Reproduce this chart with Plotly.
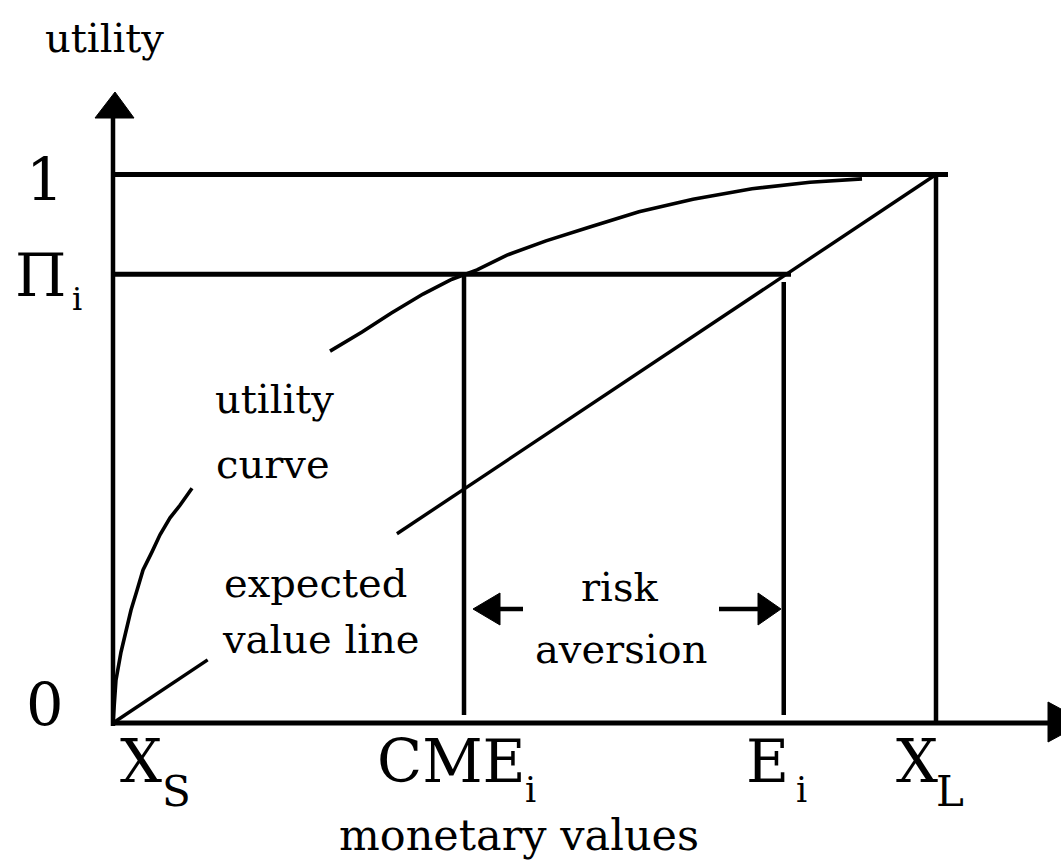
import plotly.graph_objects as go

# ---------------- data (in units: x 0=X_S .. 1=X_L, y 0..1 utility) -------------
CME = 0.4265          # certainty monetary equivalent
E_VAL = 0.815         # expected value E_i
PI_VAL = 0.818        # utility level Pi_i

# utility curve (two visible pieces, gap where the label sits)
util_x1 = [0.0, 0.0036, 0.0097, 0.0158, 0.0219, 0.0292, 0.0365, 0.0474, 0.0571, 0.0693, 0.0814, 0.096]
util_y1 = [0.0, 0.078, 0.129, 0.170, 0.206, 0.242, 0.279, 0.312, 0.343, 0.374, 0.397, 0.428]
util_x2 = [0.2637, 0.3026, 0.3378, 0.3767, 0.4119, 0.4265, 0.4423, 0.4787, 0.5261, 0.5784,
           0.6391, 0.7047, 0.7764, 0.8469, 0.9101]
util_y2 = [0.678, 0.713, 0.747, 0.782, 0.809, 0.818, 0.826, 0.853, 0.879, 0.904,
           0.932, 0.955, 0.974, 0.986, 0.992]

# expected value line (straight, with a gap for its label)
ev_x1 = [0.0, 0.115]
ev_x2 = [0.345, 1.0]

# axis label texts
x_tick_main = ["X", "CME", "E", "X"]
x_tick_sub = ["S", "i", "i", "L"]
y_tick_main = ["1", "Π", "0"]
y_tick_sub = ["", "i", ""]

FONT = "DejaVu Serif"
BLACK = "black"


# pixel helpers (layout only)
def px_x(p):
    return (p - 113) / 823.0


def px_y(p):
    return (723 - p) / 548.5


fig = go.Figure()


def add_line(xs, ys, width):
    fig.add_trace(go.Scatter(x=xs, y=ys, mode="lines",
                             line=dict(color=BLACK, width=width),
                             hoverinfo="skip", showlegend=False))


# utility curve
add_line(util_x1, util_y1, 3.6)
add_line(util_x2, util_y2, 3.6)
# expected value line
add_line(ev_x1, ev_x1, 3.4)
add_line(ev_x2, ev_x2, 3.4)

# guide lines
add_line([0, px_x(948)], [1, 1], 5)
add_line([0, px_x(791)], [PI_VAL, PI_VAL], 5)
add_line([CME, CME], [PI_VAL, px_y(715)], 4.5)
add_line([E_VAL, E_VAL], [px_y(282), px_y(715)], 4.5)
add_line([1, 1], [1, 0], 4.5)

shapes = []
# axes
shapes.append(dict(type="line", xref="x", yref="y", x0=0, x1=0, y0=px_y(726), y1=px_y(116),
                   line=dict(color=BLACK, width=4.5)))
shapes.append(dict(type="line", xref="x", yref="y", x0=px_x(111), x1=px_x(1050), y0=0, y1=0,
                   line=dict(color=BLACK, width=5)))
# y arrow head
shapes.append(dict(type="path", xref="x", yref="y",
                   path=f"M {px_x(95)} {px_y(118)} L {px_x(134)} {px_y(118)} L {px_x(115)} {px_y(92)} Z",
                   fillcolor=BLACK, line=dict(color=BLACK, width=1)))
# x arrow head (cut by the image edge)
shapes.append(dict(type="path", xref="x", yref="y",
                   path=f"M {px_x(1048)} {px_y(702)} L {px_x(1048)} {px_y(742)} L {px_x(1085)} {px_y(722)} Z",
                   fillcolor=BLACK, line=dict(color=BLACK, width=1)))

# risk aversion arrows
ya = px_y(609)
shapes.append(dict(type="line", xref="x", yref="y", x0=px_x(495), x1=px_x(523), y0=ya, y1=ya,
                   line=dict(color=BLACK, width=4.5)))
shapes.append(dict(type="path", xref="x", yref="y",
                   path=f"M {px_x(473)} {ya} L {px_x(500)} {px_y(593)} L {px_x(500)} {px_y(625)} Z",
                   fillcolor=BLACK, line=dict(color=BLACK, width=1)))
shapes.append(dict(type="line", xref="x", yref="y", x0=px_x(719), x1=px_x(762), y0=ya, y1=ya,
                   line=dict(color=BLACK, width=4.5)))
shapes.append(dict(type="path", xref="x", yref="y",
                   path=f"M {px_x(781)} {ya} L {px_x(758)} {px_y(593)} L {px_x(758)} {px_y(625)} Z",
                   fillcolor=BLACK, line=dict(color=BLACK, width=1)))

annotations = []


def txt(text, cx, baseline, size):
    cy = baseline - 0.346 * size
    annotations.append(dict(text=text, x=px_x(cx), y=px_y(cy), xref="x", yref="y",
                            showarrow=False, xanchor="center", yanchor="middle",
                            borderpad=0,
                            font=dict(family=FONT, size=size, color=BLACK)))


# axis titles
txt("utility", 104, 52, 40)
txt("monetary values", 519, 850, 43)

# y tick labels
txt(y_tick_main[0], 45, 201, 59)
txt(y_tick_main[1], 40.5, 296, 59)
txt(y_tick_sub[1], 76.5, 310, 32)
txt(y_tick_main[2], 45, 726, 59)

# x tick labels
main_cx = [140.5, 451, 767.5, 917]
sub_cx = [176.5, 530, 801, 950]
sub_base = [806, 802, 802, 806]
sub_size = [42, 35, 35, 42]
for m, s, mc, sc, sb, ss in zip(x_tick_main, x_tick_sub, main_cx, sub_cx, sub_base, sub_size):
    txt(m, mc, 782, 59)
    txt(s, sc, sb, ss)

# in-plot labels
txt("utility", 274, 413, 40)
txt("curve", 273, 478, 40)
txt("expected", 315, 597, 40)
txt("value line", 320, 653, 40)
txt("risk", 619, 601, 40)
txt("aversion", 621, 663, 40)

fig.update_layout(
    width=1061, height=867,
    margin=dict(l=0, r=0, t=0, b=0),
    paper_bgcolor="white", plot_bgcolor="white",
    xaxis=dict(visible=False, range=[px_x(0), px_x(1061)]),
    yaxis=dict(visible=False, range=[px_y(867), px_y(0)]),
    shapes=shapes,
    annotations=annotations,
    showlegend=False,
)

fig.write_html("out.html", config={"displayModeBar": False},
               post_script="document.body.style.margin='0';document.body.style.padding='0';")
